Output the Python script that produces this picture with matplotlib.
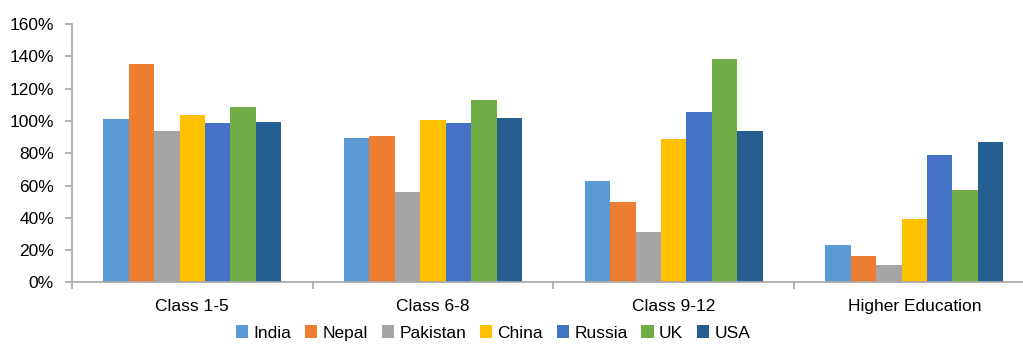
import numpy as np
import matplotlib.pyplot as plt
from matplotlib.patches import Patch

plt.rcParams['font.family'] = ['Liberation Sans', 'DejaVu Sans']

categories = ['Class 1-5', 'Class 6-8', 'Class 9-12', 'Higher Education']
countries = ['India', 'Nepal', 'Pakistan', 'China', 'Russia', 'UK', 'USA']
colors = ['#5B9BD5', '#ED7D31', '#A5A5A5', '#FFC000', '#4472C4', '#70AD47', '#255E91']

# gross enrolment ratio (%) per country, one list per country across the levels
india = [101.5, 89.5, 62.5, 23]
nepal = [135.5, 90.5, 49.5, 16]
pakistan = [93.5, 56, 31, 10.5]
china = [104, 100.5, 89, 39.5]
russia = [98.5, 99, 105.5, 79]
uk = [108.5, 113, 138.5, 57]
usa = [99.5, 102, 93.5, 87]
series = [india, nepal, pakistan, china, russia, uk, usa]

fig = plt.figure(figsize=(10.23, 3.45), dpi=100)
ax = fig.add_axes([0.0704, 0.1817, 0.941, 0.7483])

x = np.arange(len(categories))
width = 0.739 / len(countries)
for i, (vals, c) in enumerate(zip(series, colors)):
    ax.bar(x + (i - 3) * width, vals, width, color=c, label=countries[i])

ax.set_xlim(-0.5, len(categories) - 0.5)
ax.set_ylim(0, 160)
ax.set_yticks(range(0, 161, 20))
ax.set_yticklabels([f'{v}%' for v in range(0, 161, 20)], fontsize=12.5)

# boundary ticks between groups, labels at group centres
ax.set_xticks(np.arange(-0.5, len(categories), 1.0))
ax.set_xticklabels([])
ax.set_xticks(x, minor=True)
ax.set_xticklabels(categories, minor=True, fontsize=12.5)
ax.tick_params(axis='x', which='minor', length=0, pad=12)
ax.tick_params(axis='x', which='major', length=5, width=1.2, color='#A6A6A6')
ax.tick_params(axis='y', length=5, width=1.2, color='#A6A6A6', pad=8)

for s in ['top', 'right']:
    ax.spines[s].set_visible(False)
for s in ['left', 'bottom']:
    ax.spines[s].set_color('#A6A6A6')
    ax.spines[s].set_linewidth(1.2)

handles = [Patch(facecolor=c, label=n) for n, c in zip(countries, colors)]
fig.legend(handles=handles, loc='center', bbox_to_anchor=(0.482, 0.035), ncol=7,
           frameon=False, fontsize=12.5, handlelength=0.7, handleheight=0.7,
           handletextpad=0.3, columnspacing=0.8, borderpad=0)

fig.savefig('out.png', dpi=100)
